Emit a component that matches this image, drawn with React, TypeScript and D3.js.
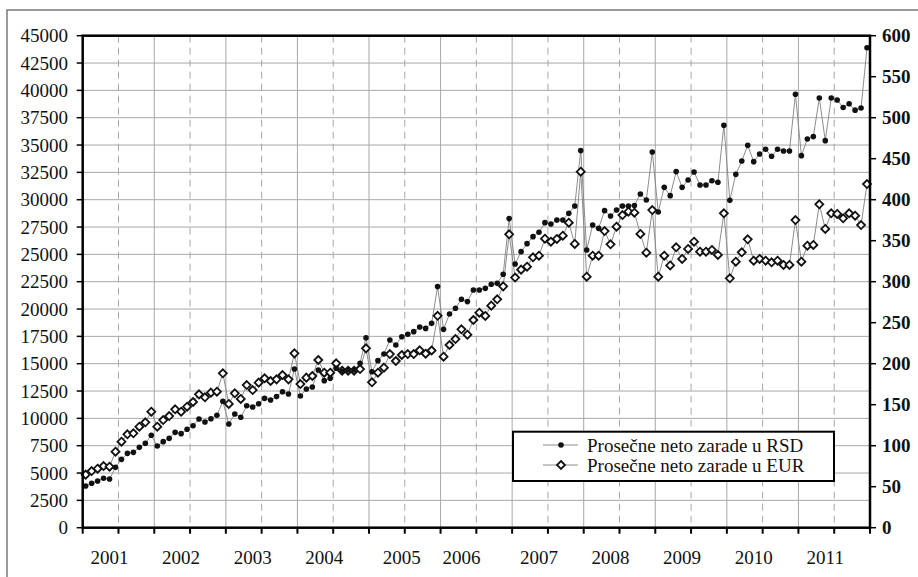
import React from "react";
import * as d3 from "d3";

// Monthly data, Jan 2001 – Dec 2011
const rsd: number[] = [
  3810, 4060, 4270, 4520, 4450, 5520, 6250, 6800, 6890, 7350, 7720, 8450,
  7470, 7870, 8170, 8720, 8600, 9000, 9330, 9940, 9670, 9970, 10280, 11560,
  9490, 10400, 10100, 11150, 11040, 11340, 11830, 11680, 11990, 12440, 12230, 14520,
  12050, 12690, 12870, 14420, 13450, 13660, 14580, 14330, 14420, 14420, 15030, 17380,
  14270, 15280, 15890, 17170, 16710, 17470, 17690, 17930, 18360, 18230, 18690, 22050,
  18140, 19550, 20070, 20890, 20680, 21740, 21740, 21890, 22260, 22350, 23180, 28270,
  24120, 25250, 25980, 26620, 27020, 27900, 27780, 28140, 28140, 28750, 29420, 34490,
  25400, 27690, 27380, 29000, 28510, 29060, 29420, 29420, 29460, 30520, 29970, 34360,
  28880, 31130, 30370, 32570, 31130, 31800, 32540, 31350, 31350, 31740, 31590, 36800,
  29940, 32320, 33540, 34970, 33480, 34180, 34610, 33970, 34610, 34460, 34460, 39640,
  34030, 35550, 35770, 39300, 35400, 39300, 39120, 38430, 38780, 38190, 38390, 43900,
];

const eur: number[] = [
  64.7, 69.1, 72.0, 75.2, 74.4, 92.7, 104.9, 113.9, 115.1, 123.2, 128.5, 141.5,
  123.2, 131.3, 136.2, 144.4, 141.5, 147.6, 153.3, 162.6, 159.0, 164.7, 165.9, 188.3,
  150.9, 163.9, 157.0, 174.0, 167.9, 176.9, 182.2, 178.9, 180.9, 186.2, 180.9, 212.6,
  175.2, 183.0, 185.0, 204.5, 189.0, 189.0, 200.4, 191.5, 191.5, 191.5, 193.5, 218.7,
  177.3, 189.0, 195.2, 211.8, 203.3, 210.6, 211.8, 211.8, 216.3, 212.2, 216.1, 258.4,
  208.6, 222.8, 230.1, 241.9, 235.4, 253.3, 262.2, 258.2, 270.8, 278.5, 294.3, 357.8,
  305.1, 314.7, 318.3, 329.7, 331.7, 352.5, 348.8, 352.1, 356.1, 372.0, 346.0, 434.2,
  306.1, 331.7, 331.7, 361.8, 345.6, 367.1, 381.3, 385.4, 384.2, 358.2, 335.4, 387.4,
  306.1, 331.7, 319.8, 341.9, 327.7, 339.9, 348.8, 336.6, 336.6, 338.7, 332.6, 383.4,
  304.1, 324.4, 335.8, 351.7, 325.6, 327.7, 325.6, 323.6, 325.6, 320.4, 320.4, 375.2,
  324.4, 343.9, 344.8, 394.4, 364.3, 383.4, 382.6, 377.3, 383.4, 380.5, 369.1, 419.1,
];

const yearLabels: string[] = ["2001", "2002", "2003", "2004", "2005", "2006", "2007", "2008", "2009", "2010", "2011"];
// month index (category) under which each year label is centred
const yearLabelMonths: number[] = [4, 16, 28, 40, 53, 63, 76, 88, 100, 112, 124];

const leftTicks: number[] = d3.range(0, 45001, 2500);
const rightTicks: number[] = d3.range(0, 601, 50);
const seriesNames: string[] = ["Prosečne neto zarade u RSD", "Prosečne neto zarade u EUR"];

const W = 918;
const H = 577;
const M = { left: 82.7, right: 870, top: 35.7, bottom: 527.7 };
const FONT = '"Liberation Serif", "Times New Roman", Times, serif';

export default function App() {
  const n = rsd.length;
  const xm = d3.scaleLinear().domain([0, n]).range([M.left, M.right]);
  const xc = (i: number) => xm(i + 0.5);
  const yL = d3.scaleLinear().domain([0, 45000]).range([M.bottom, M.top]);
  const yR = d3.scaleLinear().domain([0, 600]).range([M.bottom, M.top]);

  const lineL = d3.line<number>().x((_, i) => xc(i)).y((d) => yL(d));
  const lineR = d3.line<number>().x((_, i) => xc(i)).y((d) => yR(d));

  const halfYears = d3.range(0, n + 1, 6);
  const diamond = (cx: number, cy: number, r: number) =>
    `M${cx},${cy - r}L${cx + r},${cy}L${cx},${cy + r}L${cx - r},${cy}Z`;

  const textStyle: React.CSSProperties = { fontFamily: FONT };

  return (
    <svg width={W} height={H} style={{ position: "absolute", left: 0, top: 0, background: "#fff", fontFamily: FONT }}>
      <rect x={0} y={0} width={W} height={H} fill="#fff" />
      {/* outer frame */}
      <rect x={7} y={10} width={W + 20} height={H + 20} fill="none" stroke="#7a7a7a" strokeWidth={1.5} />

      {/* horizontal grid */}
      {leftTicks.slice(1, -1).map((t) => (
        <line key={"h" + t} x1={M.left} x2={M.right} y1={yL(t)} y2={yL(t)} stroke="#a8a8a8" strokeWidth={1} />
      ))}
      {/* vertical grid */}
      {halfYears.slice(1, -1).map((k) => (
        <line
          key={"v" + k}
          x1={xm(k)}
          x2={xm(k)}
          y1={M.top}
          y2={M.bottom}
          stroke="#a8a8a8"
          strokeWidth={1}
          strokeDasharray={k % 12 === 6 ? "7,5" : undefined}
        />
      ))}

      {/* series lines */}
      <path d={lineL(rsd) || ""} fill="none" stroke="#808080" strokeWidth={0.9} />
      <path d={lineR(eur) || ""} fill="none" stroke="#808080" strokeWidth={0.9} />

      {/* markers */}
      {eur.map((d, i) => (
        <path key={"e" + i} d={diamond(xc(i), yR(d), 4)} fill="#fff" stroke="#111" strokeWidth={1.8} />
      ))}
      {rsd.map((d, i) => (
        <circle key={"r" + i} cx={xc(i)} cy={yL(d)} r={2.8} fill="#111" />
      ))}

      {/* plot frame / axes */}
      <rect x={M.left} y={M.top} width={M.right - M.left} height={M.bottom - M.top} fill="none" stroke="#000" strokeWidth={2.5} />

      {/* left axis */}
      {leftTicks.map((t) => (
        <g key={"l" + t}>
          <line x1={M.left - 6} x2={M.left} y1={yL(t)} y2={yL(t)} stroke="#000" strokeWidth={1.5} />
          <text x={68} y={yL(t)} dy="0.35em" textAnchor="end" fontSize={19} fill="#111" style={textStyle}>
            {t}
          </text>
        </g>
      ))}

      {/* right axis */}
      {rightTicks.map((t) => (
        <g key={"rt" + t}>
          <line x1={M.right} x2={M.right + 6} y1={yR(t)} y2={yR(t)} stroke="#000" strokeWidth={1.5} />
          <text x={882} y={yR(t)} dy="0.35em" textAnchor="start" fontSize={19} fontWeight="bold" fill="#111" style={textStyle}>
            {t}
          </text>
        </g>
      ))}

      {/* bottom axis ticks */}
      {halfYears.map((k) => (
        <line key={"bt" + k} x1={xm(k)} x2={xm(k)} y1={M.bottom} y2={M.bottom + 6} stroke="#000" strokeWidth={2} />
      ))}
      {yearLabels.map((lab, i) => (
        <text key={lab} x={xc(yearLabelMonths[i])} y={557} dy="0.35em" textAnchor="middle" fontSize={19} fill="#111" style={textStyle}>
          {lab}
        </text>
      ))}

      {/* legend */}
      <g>
        <rect x={513} y={431.7} width={321} height={49.3} fill="#fff" stroke="#000" strokeWidth={2} />
        <line x1={543} x2={578} y1={445} y2={445} stroke="#808080" strokeWidth={0.9} />
        <circle cx={561} cy={445} r={2.8} fill="#111" />
        <text x={587} y={445} dy="0.35em" fontSize={19} fill="#111" style={textStyle}>
          {seriesNames[0]}
        </text>
        <line x1={543} x2={578} y1={465} y2={465} stroke="#808080" strokeWidth={0.9} />
        <path d={diamond(561, 465, 4)} fill="#fff" stroke="#111" strokeWidth={1.8} />
        <text x={587} y={465} dy="0.35em" fontSize={19} fill="#111" style={textStyle}>
          {seriesNames[1]}
        </text>
      </g>
    </svg>
  );
}
